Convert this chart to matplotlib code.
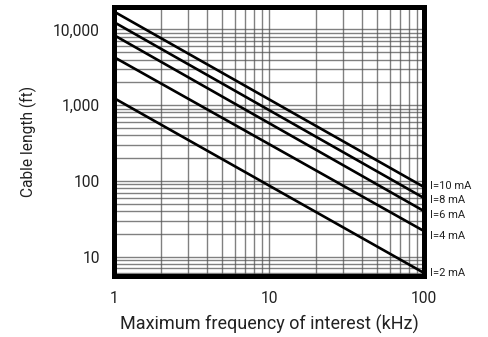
import matplotlib.pyplot as plt
from matplotlib.ticker import FixedLocator, LogLocator, NullFormatter

# values (log-log, straight lines between end points)
freq_khz = [1, 100]
currents = ["I=10 mA", "I=8 mA", "I=6 mA", "I=4 mA", "I=2 mA"]
cable_ft = [
    [17200, 83],
    [12480, 59.5],
    [8410, 40],
    [4310, 21.8],
    [1240, 6.1],
]
x_ticks = [1, 10, 100]
x_labels = ["1", "10", "100"]
y_ticks = [10, 100, 1000, 10000]
y_labels = ["10", "100", "1,000", "10,000"]

# small vertical nudges (points) so the end labels don't collide
label_dy = [1, -1.5, -2.5, -3.5, 0]

plt.rcParams["font.family"] = ["Roboto", "DejaVu Sans"]

fig = plt.figure(figsize=(4.89, 3.37), dpi=100)
ax = fig.add_axes([0.233, 0.181, 0.634, 0.798])

for name, vals, dy in zip(currents, cable_ft, label_dy):
    ax.plot(freq_khz, vals, color="black", lw=1.9, solid_capstyle="butt", zorder=3)
    ax.annotate(name, xy=(freq_khz[-1], vals[-1]), xytext=(4, dy),
                textcoords="offset points", va="center", ha="left",
                fontsize=8, color="#222222", annotation_clip=False)

ax.set_xscale("log")
ax.set_yscale("log")
ax.set_xlim(1, 100)
ax.set_ylim(5.56, 19700)

ax.xaxis.set_major_locator(FixedLocator(x_ticks))
ax.set_xticklabels(x_labels)
ax.yaxis.set_major_locator(FixedLocator(y_ticks))
ax.set_yticklabels(y_labels)
ax.xaxis.set_minor_locator(LogLocator(base=10, subs=range(2, 10)))
ax.yaxis.set_minor_locator(LogLocator(base=10, subs=range(2, 10)))
ax.xaxis.set_minor_formatter(NullFormatter())
ax.yaxis.set_minor_formatter(NullFormatter())

ax.tick_params(which="both", length=0, labelsize=11.2, colors="#222222")
ax.tick_params(axis="x", pad=11)
ax.tick_params(axis="y", pad=10)

ax.grid(which="both", color="#555555", lw=1.0, alpha=0.75)

for s in ax.spines.values():
    s.set_linewidth(3.6)
    s.set_color("black")
    s.set_zorder(4)

ax.set_xlabel("Maximum frequency of interest (kHz)", fontsize=13, labelpad=6,
              color="#222222")
ax.set_ylabel("Cable length (ft)", fontsize=11.2, labelpad=12, color="#222222")

fig.savefig("out.png", dpi=100)
